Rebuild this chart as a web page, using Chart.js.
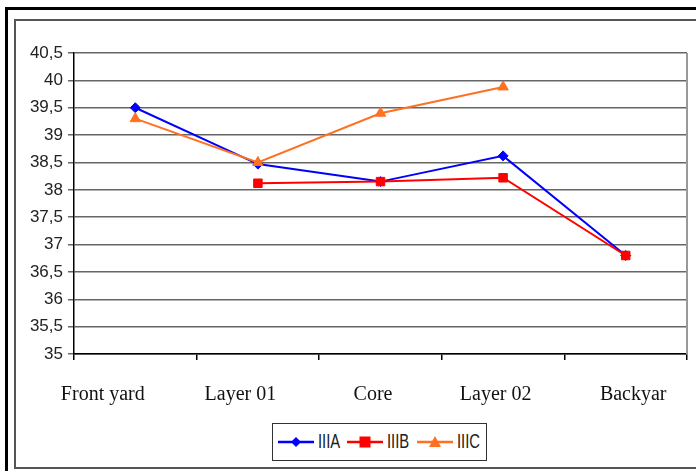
<!DOCTYPE html>
<html lang="en">
<head>
  <meta charset="UTF-8">
  <title>IIIA IIIB IIIC</title>
  <script src="https://cdn.jsdelivr.net/npm/chart.js"></script>
  <style>
    body {
      margin: 0;
      background: #fff;
      width: 696px;
      height: 471px;
      overflow: hidden;
      position: relative;
    }
    #marco {
      position: absolute;
      left: 5px;
      top: 7px;
      width: 720px;
      height: 500px;
      border-top: 3px solid #000;
      border-left: 3px solid #000;
    }
    #caja {
      position: absolute;
      left: 14px;
      top: 19px;
      width: 700px;
      height: 446px;
      border: 2px solid #555;
    }
    canvas {
      position: absolute;
      left: 0;
      top: 0;
    }
    #leyenda {
      position: absolute;
      left: 272px;
      top: 423px;
      width: 213px;
      height: 36px;
      border: 1.5px solid #333;
      background: #fff;
      font-family: "Liberation Sans", Arial, sans-serif;
      font-size: 20px;
      color: #222;
    }
    .item {
      position: absolute;
      top: 11px;
      height: 14px;
    }
    .item svg {
      position: absolute;
      left: 0;
      top: 0;
    }
    .item span {
      position: absolute;
      left: 40px;
      top: -5px;
      line-height: 22px;
      transform: scaleX(0.74);
      transform-origin: left center;
    }
  </style>
</head>
<body>
  <div id="marco"></div>
  <div id="caja"></div>
  <canvas id="grafico" width="696" height="471"></canvas>
  <div id="leyenda"></div>

  <script>
    const categorias = ['Front yard', 'Layer 01', 'Core', 'Layer 02', 'Backyar'];
    const serieIIIA = [39.5, 38.47, 38.15, 38.62, 36.8];
    const serieIIIB = [null, 38.12, 38.15, 38.22, 36.8];
    const serieIIIC = [39.3, 38.5, 39.4, 39.88, null];
    const ticksY = [35, 35.5, 36, 36.5, 37, 37.5, 38, 38.5, 39, 39.5, 40, 40.5];

    // las etiquetas del original no estan centradas: espacios a la izq/der
    const espaciosDer = [13, 7, 3, 3, 0];
    const espaciosIzq = [0, 0, 0, 0, 3];

    const series = [
      { nombre: 'IIIA', datos: serieIIIA, color: '#0000ff', punto: 'rectRot', radio: 5, orden: 3 },
      { nombre: 'IIIB', datos: serieIIIB, color: '#ff0000', punto: 'rect', radio: 6, orden: 2 },
      { nombre: 'IIIC', datos: serieIIIC, color: '#ff7020', punto: 'triangle', radio: 6, orden: 1 }
    ];

    // borde derecho del area de trazado
    const bordePlot = {
      id: 'bordePlot',
      beforeDatasetsDraw(chart) {
        const a = chart.chartArea;
        const c = chart.ctx;
        c.save();
        c.strokeStyle = '#999';
        c.lineWidth = 2;
        c.beginPath();
        c.moveTo(a.right, a.top);
        c.lineTo(a.right, a.bottom);
        c.stroke();
        c.restore();
      }
    };

    const nb = '\u00a0';
    const ctx = document.getElementById('grafico').getContext('2d');
    new Chart(ctx, {
      type: 'line',
      data: {
        labels: categorias,
        datasets: series.map(s => ({
          label: s.nombre,
          data: s.datos,
          borderColor: s.color,
          backgroundColor: s.color,
          borderWidth: 2,
          pointStyle: s.punto,
          pointRadius: s.radio,
          pointBorderWidth: 1,
          tension: 0,
          order: s.orden
        }))
      },
      options: {
        responsive: false,
        animation: false,
        layout: { padding: { left: 0, top: 53, right: 9, bottom: 0 } },
        plugins: {
          legend: { display: false },
          tooltip: { enabled: false }
        },
        scales: {
          x: {
            offset: true,
            afterFit(scale) { scale.height = 117; },
            grid: {
              offset: true,
              drawOnChartArea: false,
              drawTicks: true,
              tickLength: 6,
              color: '#000',
              lineWidth: 1.5
            },
            border: { color: '#000', width: 1.5 },
            ticks: {
              autoSkip: false,
              maxRotation: 0,
              padding: 23,
              color: '#111',
              font: { family: '"Liberation Serif", "Times New Roman", serif', size: 20 },
              callback: (v, i) => nb.repeat(espaciosIzq[i]) + categorias[i] + nb.repeat(espaciosDer[i])
            }
          },
          y: {
            min: 35,
            max: 40.5,
            afterFit(scale) { scale.width = 74; },
            afterBuildTicks(scale) { scale.ticks = ticksY.map(v => ({ value: v })); },
            grid: {
              color: '#666',
              lineWidth: 1.5,
              tickLength: 6
            },
            border: { color: '#000', width: 1.5 },
            ticks: {
              padding: 5,
              color: '#222',
              font: { family: '"Liberation Sans", Arial, sans-serif', size: 17 },
              callback: v => String(v).replace('.', ',')
            }
          }
        }
      },
      plugins: [bordePlot]
    });

    // leyenda con linea y marcador
    function icono(s) {
      let marca = '';
      if (s.punto === 'rectRot') {
        marca = '<polygon points="18,2 23,7 18,12 13,7" fill="' + s.color + '"/>';
      } else if (s.punto === 'rect') {
        marca = '<rect x="12.5" y="1.5" width="11" height="11" fill="' + s.color + '"/>';
      } else {
        marca = '<polygon points="18,1 24,12 12,12" fill="' + s.color + '"/>';
      }
      return '<svg width="36" height="14"><line x1="0" y1="7" x2="36" y2="7" stroke="' + s.color + '" stroke-width="2.5"/>' + marca + '</svg>';
    }

    const posLeyenda = [5, 74, 144];
    const leyenda = document.getElementById('leyenda');
    series.forEach((s, i) => {
      const item = document.createElement('div');
      item.className = 'item';
      item.style.left = posLeyenda[i] + 'px';
      item.innerHTML = icono(s) + '<span>' + s.nombre + '</span>';
      leyenda.appendChild(item);
    });
  </script>
</body>
</html>
